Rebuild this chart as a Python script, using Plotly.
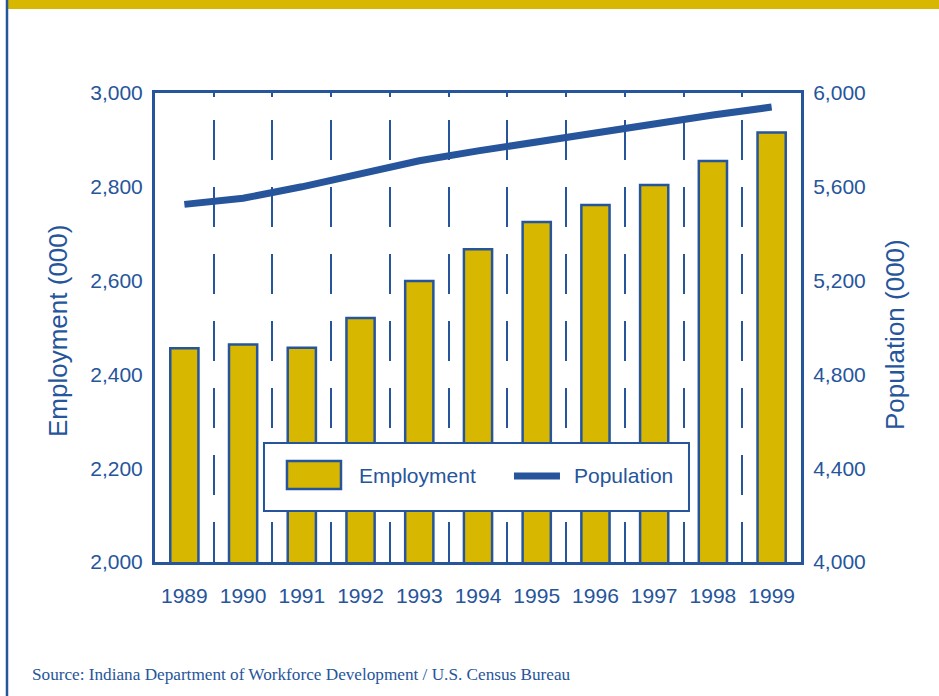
import plotly.graph_objects as go

# ---- data ----
years = [1989, 1990, 1991, 1992, 1993, 1994, 1995, 1996, 1997, 1998, 1999]
year_labels = [str(y) for y in years]
employment = [2456, 2464, 2457, 2520, 2599, 2667, 2725, 2761, 2804, 2855, 2916]
population = [5525, 5551, 5600, 5653, 5711, 5753, 5792, 5832, 5871, 5906, 5940]
emp_ticks = [2000, 2200, 2400, 2600, 2800, 3000]
pop_ticks = [4000, 4400, 4800, 5200, 5600, 6000]
boundaries = [y + 0.5 for y in years[:-1]]
source_text = "Source: Indiana Department of Workforce Development / U.S. Census Bureau"

BLUE = "#26559B"
GOLD = "#D8B700"
FONT = "Liberation Sans, Arial, sans-serif"

fig = go.Figure()
fig.add_trace(go.Bar(
    x=years, y=employment, name="Employment", width=0.48,
    marker=dict(color=GOLD, line=dict(color=BLUE, width=2.5)),
    yaxis="y", showlegend=False,
))
fig.add_trace(go.Scatter(
    x=years, y=population, name="Population", mode="lines",
    line=dict(color=BLUE, width=7), yaxis="y2", showlegend=False,
))

fig.update_layout(
    width=939, height=696,
    margin=dict(l=155, r=138, t=93, b=134),
    paper_bgcolor="white", plot_bgcolor="white",
    font=dict(family=FONT, color=BLUE, size=21),
    xaxis=dict(
        range=[1988.5, 1999.5], tickvals=years, ticktext=year_labels,
        showgrid=False, zeroline=False, showline=True, linecolor=BLUE,
        linewidth=2.5, mirror="allticks", ticks="", ticklabelstandoff=13,
        tickfont=dict(size=21, color=BLUE),
        minor=dict(tickvals=boundaries, showgrid=True, gridcolor=BLUE,
                   gridwidth=1.5, griddash="0px,27px,40px,0px",
                   ticks="inside", ticklen=4, tickwidth=1.5, tickcolor=BLUE),
    ),
    yaxis=dict(
        range=[2000, 3000], tickvals=emp_ticks, tickformat=",",
        showgrid=False, zeroline=False, showline=True, linecolor=BLUE,
        linewidth=3, ticks="", ticklabelstandoff=5,
        tickfont=dict(size=21, color=BLUE),
    ),
    yaxis2=dict(
        range=[4000, 6000], tickvals=pop_ticks, tickformat=",",
        overlaying="y", side="right",
        showgrid=False, zeroline=False, showline=True, linecolor=BLUE,
        linewidth=3, ticks="", ticklabelstandoff=5,
        tickfont=dict(size=21, color=BLUE),
    ),
    bargap=0.5,
)

shapes = [
    # gold band at top of page
    dict(type="rect", xref="paper", yref="paper", x0=-0.2276, x1=1.3,
         y0=1.1791, y1=1.3, fillcolor=GOLD, line=dict(width=0), layer="below"),
    # left page rule
    dict(type="line", xref="paper", yref="paper", x0=-0.2291, x1=-0.2291,
         y0=-0.35, y1=1.3, line=dict(color=BLUE, width=2.5)),
    # legend box
    dict(type="rect", xref="paper", yref="paper", x0=0.1687, x1=0.8266,
         y0=0.1087, y1=0.2537, fillcolor="white", line=dict(color=BLUE, width=2)),
    # employment swatch
    dict(type="rect", xref="paper", yref="paper", x0=0.2043, x1=0.2879,
         y0=0.1557, y1=0.2154, fillcolor=GOLD, line=dict(color=BLUE, width=2.5)),
    # population swatch
    dict(type="line", xref="paper", yref="paper", x0=0.5557, x1=0.6269,
         y0=0.1834, y1=0.1834, line=dict(color=BLUE, width=7)),
]

annotations = [
    dict(text="Employment", xref="paper", yref="paper", x=0.3127, y=0.1855,
         xanchor="left", yanchor="middle", showarrow=False,
         font=dict(size=21, color=BLUE, family=FONT)),
    dict(text="Population", xref="paper", yref="paper", x=0.6455, y=0.1834,
         xanchor="left", yanchor="middle", showarrow=False,
         font=dict(size=21, color=BLUE, family=FONT)),
    dict(text="Employment (000)", xref="paper", yref="paper", x=-0.1502, y=0.4925,
         xanchor="center", yanchor="middle", textangle=-90, showarrow=False,
         font=dict(size=26, color=BLUE, family=FONT)),
    dict(text="Population (000)", xref="paper", yref="paper", x=1.1455, y=0.486,
         xanchor="center", yanchor="middle", textangle=-90, showarrow=False,
         font=dict(size=26, color=BLUE, family=FONT)),
    dict(text=source_text, xref="paper", yref="paper", x=-0.1935, y=-0.2409,
         xanchor="left", yanchor="middle", showarrow=False,
         font=dict(size=17.2, color=BLUE, family="Liberation Serif, Times New Roman, serif")),
]

fig.update_layout(shapes=shapes, annotations=annotations)
fig.write_html(
    "out.html",
    config={"displayModeBar": False},
    post_script="document.body.style.margin='0px';document.body.style.overflow='hidden';",
)
